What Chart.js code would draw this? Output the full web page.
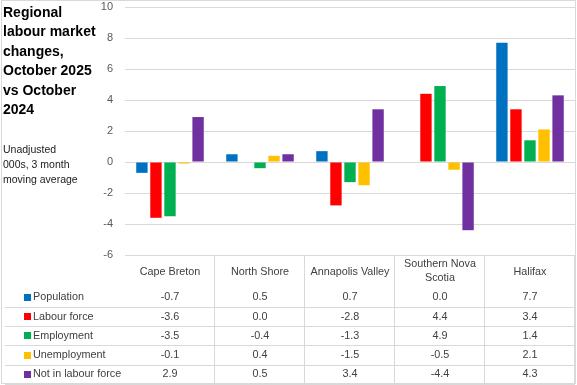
<!DOCTYPE html>
<html>
<head>
<meta charset="utf-8">
<script src="https://cdn.jsdelivr.net/npm/chart.js@4/dist/chart.umd.min.js"></script>
<style>
  html, body { margin: 0; padding: 0; background: #fff; }
  #wrap { position: relative; width: 577px; height: 385px; overflow: hidden; }
  canvas { position: absolute; left: 0; top: 0; }
  #title { position: absolute; left: 3px; top: 3px; font: bold 14px "Liberation Sans", Arial, sans-serif; line-height: 19.4px; color: #000; white-space: nowrap; }
  #subtitle { position: absolute; left: 3px; top: 141.5px; font: 10.5px "Liberation Sans", Arial, sans-serif; line-height: 15px; color: #1a1a1a; white-space: nowrap; }
</style>
</head>
<body>
<div id="wrap">
  <canvas id="c" width="577" height="385"></canvas>
  <div id="title">Regional<br>labour market<br>changes,<br>October 2025<br>vs October<br>2024</div>
  <div id="subtitle">Unadjusted<br>000s, 3 month<br>moving average</div>
</div>
<script>
// ---- data ----
const categories = ['Cape Breton', 'North Shore', 'Annapolis Valley', ['Southern Nova', 'Scotia'], 'Halifax'];
const seriesNames = ['Population', 'Labour force', 'Employment', 'Unemployment', 'Not in labour force'];
const population = [-0.7, 0.5, 0.7, 0.0, 7.7];
const labourForce = [-3.6, 0.0, -2.8, 4.4, 3.4];
const employment = [-3.5, -0.4, -1.3, 4.9, 1.4];
const unemployment = [-0.1, 0.4, -1.5, -0.5, 2.1];
const notInLabourForce = [2.9, 0.5, 3.4, -4.4, 4.3];
const yTicks = [-6, -4, -2, 0, 2, 4, 6, 8, 10];

const seriesValues = [population, labourForce, employment, unemployment, notInLabourForce];
const colors = ['#0070C0', '#FF0000', '#00B050', '#FFC000', '#7030A0'];

const gridColor = '#d9d9d9';
const tableFont = '10.8px "Liberation Sans", Arial, sans-serif';

const tablePlugin = {
  id: 'dataTable',
  afterDraw(chart) {
    const ctx = chart.ctx;
    const xs = chart.scales.x;
    const area = chart.chartArea;
    const n = categories.length;
    const cw = (area.right - area.left) / n;
    const top = area.bottom;
    const bottom = 384;
    const rowLines = [307, 326.2, 345.4, 364.6, 383.8];
    const rowCenters = [297.3, 316.6, 335.8, 355.0, 374.0];
    ctx.save();
    ctx.strokeStyle = gridColor;
    ctx.lineWidth = 1;
    for (let i = 1; i <= n; i++) {
      const x = Math.round(area.left + i * cw) - 0.5;
      ctx.beginPath();
      ctx.moveTo(x, top);
      ctx.lineTo(x, bottom);
      ctx.stroke();
    }
    rowLines.forEach(y => {
      ctx.beginPath();
      ctx.moveTo(5, Math.round(y) + 0.5);
      ctx.lineTo(area.right, Math.round(y) + 0.5);
      ctx.stroke();
    });
    ctx.strokeRect(1.5, 0.5, 574, 383);

    ctx.font = tableFont;
    ctx.fillStyle = '#404040';
    ctx.textBaseline = 'middle';
    ctx.textAlign = 'center';
    categories.forEach((c, i) => {
      const cx = xs.getPixelForValue(i);
      if (Array.isArray(c)) {
        ctx.fillText(c[0], cx, 264.3);
        ctx.fillText(c[1], cx, 278);
      } else {
        ctx.fillText(c, cx, 271.7);
      }
    });
    seriesNames.forEach((name, r) => {
      const y = rowCenters[r];
      ctx.fillStyle = colors[r];
      ctx.fillRect(24, Math.round(y - 3.5), 7, 7);
      ctx.fillStyle = '#404040';
      ctx.textAlign = 'left';
      ctx.fillText(name, 33, y);
      ctx.textAlign = 'center';
      seriesValues[r].forEach((v, i) => {
        ctx.fillText(v.toFixed(1), xs.getPixelForValue(i), y);
      });
    });
    ctx.restore();
  }
};

new Chart(document.getElementById('c'), {
  type: 'bar',
  data: {
    labels: categories,
    datasets: seriesNames.map((name, i) => ({
      label: name,
      data: seriesValues[i],
      backgroundColor: colors[i],
      borderWidth: 0,
      categoryPercentage: 0.78,
      barPercentage: 0.81
    }))
  },
  options: {
    responsive: false,
    animation: false,
    devicePixelRatio: 1,
    layout: { padding: { left: 0, right: 2, top: 7, bottom: 130 } },
    plugins: { legend: { display: false }, tooltip: { enabled: false }, title: { display: false } },
    scales: {
      x: { display: false, offset: true, grid: { display: false } },
      y: {
        min: -6, max: 10,
        afterFit(scale) { scale.width = 125; scale.paddingTop = 6; scale.paddingBottom = 6; },
        afterBuildTicks(scale) { scale.ticks = yTicks.map(v => ({ value: v })); },
        border: { display: false },
        grid: { color: gridColor, drawTicks: false, lineWidth: 1 },
        ticks: {
          padding: 12,
          color: '#595959',
          font: { family: '"Liberation Sans", Arial, sans-serif', size: 11 },
          callback: v => String(v)
        }
      }
    }
  },
  plugins: [tablePlugin]
});
</script>
</body>
</html>
